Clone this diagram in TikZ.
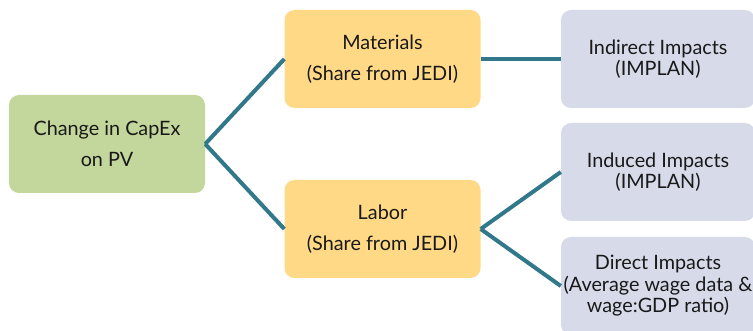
\documentclass[tikz,border=0pt]{standalone}
\usepackage{fontspec}
\setmainfont{Lato}
\definecolor{capgreen}{HTML}{C3D69B}
\definecolor{shareyellow}{HTML}{FFD985}
\definecolor{implav}{HTML}{D7DBE9}
\definecolor{teal}{HTML}{31788A}
\tikzset{
  box/.style={rounded corners=10pt, minimum width=196pt, minimum height=98pt, inner sep=0pt, align=center, text=black!90},
  bigspace/.style={font=\fontsize{19.8}{31.5}\selectfont},
  smallspace/.style={font=\fontsize{19.8}{21.5}\selectfont},
  link/.style={draw=teal, line width=4pt}
}
\begin{document}
\begin{tikzpicture}[x=1pt,y=-1pt]
\useasboundingbox (0,0) rectangle (753,331);
\clip (0,0) rectangle (753,331);
\node[box, bigspace, fill=capgreen] (cap) at (107,144) {Change in CapEx\\on PV};
\node[box, bigspace, fill=shareyellow] (mat) at (382.5,59) {Materials\\(Share from JEDI)};
\node[box, bigspace, fill=shareyellow] (lab) at (382.5,229) {Labor\\(Share from JEDI)};
\node[box, smallspace, fill=implav, minimum width=194pt] (ind) at (658,59) {Indirect Impacts\\(IMPLAN)};
\node[box, smallspace, fill=implav, minimum width=194pt] (indu) at (658,172) {Induced Impacts\\(IMPLAN)};
\node[box, smallspace, fill=implav, minimum width=194pt] (dir) at (658,286) {Direct Impacts\\(Average wage data \&\\wage:GDP ratio)};
\draw[link] (cap.east) -- (mat.west);
\draw[link] (cap.east) -- (lab.west);
\draw[link] (mat.east) -- (ind.west);
\draw[link] (lab.east) -- (indu.west);
\draw[link] (lab.east) -- (dir.west);
\end{tikzpicture}
\end{document}
